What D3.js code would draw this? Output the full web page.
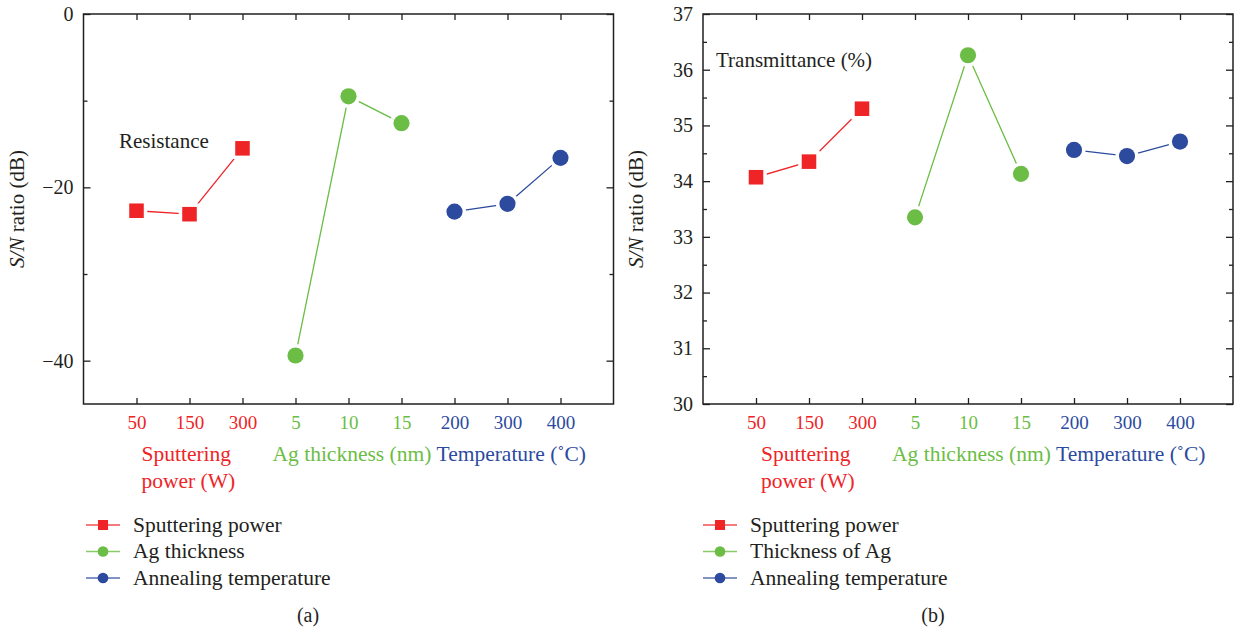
<!DOCTYPE html>
<html>
<head>
<meta charset="utf-8">
<script src="https://cdn.jsdelivr.net/npm/d3@7"></script>
<style>
  body { margin: 0; background: #fff; }
  svg text { font-family: "Liberation Serif", "DejaVu Serif", serif; fill: #231f20; }
</style>
</head>
<body>
<svg id="chart" width="1236" height="633"></svg>
<script>
// Factor levels along the x axis
let powerLevels = ["50", "150", "300"]
let thicknessLevels = ["5", "10", "15"]
let tempLevels = ["200", "300", "400"]
let groupLabels = [["Sputtering", "power (W)"], ["Ag thickness (nm)"], ["Temperature (\u02DAC)"]]

// S/N ratio (dB) for resistance
let resPower = [-22.7, -23.1, -15.5]
let resThickness = [-39.4, -9.5, -12.6]
let resTemp = [-22.8, -21.9, -16.6]
let resTicks = [0, -20, -40]
let resMinorTicks = [-10, -30]
let resLegend = ["Sputtering power", "Ag thickness", "Annealing temperature"]

// S/N ratio (dB) for transmittance
let transPower = [34.07, 34.35, 35.3]
let transThickness = [33.35, 36.26, 34.13]
let transTemp = [34.56, 34.45, 34.71]
let transTicks = [30, 31, 32, 33, 34, 35, 36, 37]
let transMinorTicks = [30.5, 31.5, 32.5, 33.5, 34.5, 35.5, 36.5]
let transLegend = ["Sputtering power", "Thickness of Ag", "Annealing temperature"]

let colors = ["#ee2427", "#6bbd45", "#2c4a9e"]
let shapes = [d3.symbolSquare, d3.symbolCircle, d3.symbolCircle]
let levels = [powerLevels, thicknessLevels, tempLevels]

let svg = d3.select("#chart")

function panel(cfg){

	let g = svg.append("g")
	let top = 14, bottom = 404

	let x = d3.scaleLinear().domain([0, 10]).range([cfg.left, cfg.left + 530])
	let y = d3.scaleLinear().domain(cfg.domain).range([bottom, top])

	let positions = d3.range(1, 10)
	let tickText = levels.flat()
	let tickColor = i => colors[Math.floor(i / 3)]

	// Axes, ticks pointing inwards
	let left = g.append("g")
		.attr("class", "axis")
		.attr("transform", "translate(" + x(0) + ",0)")
		.call(d3.axisLeft(y).tickValues(cfg.ticks).tickSize(-7).tickPadding(10).tickFormat(d3.format("")))
	left.selectAll("text").style("font-size", "20px").style("font-family", null)

	g.append("g")
		.attr("transform", "translate(" + x(0) + ",0)")
		.call(d3.axisLeft(y).tickValues(cfg.minor).tickSize(-4).tickFormat(""))

	g.append("g")
		.attr("transform", "translate(" + x(10) + ",0)")
		.call(d3.axisRight(y).tickValues(cfg.ticks).tickSize(-7).tickFormat(""))
	g.append("g")
		.attr("transform", "translate(" + x(10) + ",0)")
		.call(d3.axisRight(y).tickValues(cfg.minor).tickSize(-4).tickFormat(""))

	let bottomAxis = g.append("g")
		.attr("transform", "translate(0," + bottom + ")")
		.call(d3.axisBottom(x).tickValues(positions).tickSize(-6).tickPadding(12)
			.tickFormat((d, i) => tickText[i]))
	bottomAxis.selectAll("text")
		.style("font-size", "19px")
		.style("font-family", null)
		.style("fill", (d, i) => tickColor(i))

	g.append("g")
		.attr("transform", "translate(0," + top + ")")
		.call(d3.axisTop(x).tickValues(positions).tickSize(-6).tickFormat(""))

	g.selectAll(".domain").remove()
	g.selectAll(".tick line").attr("stroke", "#231f20").attr("stroke-width", 1.3)

	g.append("rect")
		.attr("x", x(0)).attr("y", top)
		.attr("width", x(10) - x(0)).attr("height", bottom - top)
		.attr("fill", "none")
		.attr("stroke", "#231f20")
		.attr("stroke-width", 1.5)

	// Group names under the tick labels
	let groupX = [x(1) + 5, x(4) - 23, x(7) - 18]
	groupLabels.forEach((lines, k) => {
		let t = g.append("text")
			.attr("x", groupX[k])
			.attr("y", 461)
			.style("font-size", "21.5px")
			.style("fill", colors[k])
		lines.forEach((s, j) => {
			t.append("tspan").attr("x", groupX[k]).attr("dy", j ? 26.5 : 0).text(s)
		})
	})

	// Y axis title
	let ytitle = g.append("text")
		.attr("transform", "translate(" + (x(0) - 60) + "," + (top + bottom) / 2 + ") rotate(-90)")
		.attr("text-anchor", "middle")
		.style("font-size", "21px")
	ytitle.append("tspan").style("font-style", "italic").text("S/N")
	ytitle.append("tspan").text(" ratio (dB)")

	// Series: one line per factor, three levels each
	cfg.series.forEach((vals, k) => {
		let pts = vals.map((v, j) => [x(3 * k + 1 + j), y(v)])

		g.append("path")
			.attr("d", d3.line()(pts))
			.attr("fill", "none")
			.attr("stroke", colors[k])
			.attr("stroke-width", 1.3)

		g.selectAll(null)
			.data(pts)
			.enter()
			.append("path")
			.attr("transform", d => "translate(" + d[0] + "," + d[1] + ")")
			.attr("d", d3.symbol().type(shapes[k]).size(k ? 205 : 212))
			.attr("fill", colors[k])
			.attr("stroke", "#fff")
			.attr("stroke-width", 7)
			.style("paint-order", "stroke")
	})

	// Note in the upper left
	g.append("text")
		.attr("x", cfg.note[0])
		.attr("y", cfg.note[1])
		.style("font-size", "21px")
		.text(cfg.title)

	// Legend
	let lx = x(0) + cfg.legendDx
	cfg.legend.forEach((name, k) => {
		let ly = 525 + k * 26.5
		g.append("line")
			.attr("x1", lx).attr("x2", lx + 34)
			.attr("y1", ly).attr("y2", ly)
			.attr("stroke", colors[k])
			.attr("stroke-opacity", 0.8)
			.attr("stroke-width", 1.3)
		g.append("path")
			.attr("transform", "translate(" + (lx + 17) + "," + ly + ")")
			.attr("d", d3.symbol().type(shapes[k]).size(k ? 90 : 100))
			.attr("fill", colors[k])
		g.append("text")
			.attr("x", lx + 47)
			.attr("y", ly + 6.5)
			.style("font-size", "21.5px")
			.text(name)
	})

	g.append("text")
		.attr("x", cfg.caption)
		.attr("y", 622)
		.attr("text-anchor", "middle")
		.style("font-size", "20px")
		.text(cfg.tag)

} // panel

panel({
	left: 83.5, domain: [-45, 0], ticks: resTicks, minor: resMinorTicks,
	series: [resPower, resThickness, resTemp],
	title: "Resistance", note: [119, 148],
	legend: resLegend, legendDx: 2.5,
	caption: 308, tag: "(a)"
})

panel({
	left: 703, domain: [30, 37], ticks: transTicks, minor: transMinorTicks,
	series: [transPower, transThickness, transTemp],
	title: "Transmittance (%)", note: [716, 67],
	legend: transLegend, legendDx: 0,
	caption: 933, tag: "(b)"
})
</script>
</body>
</html>
